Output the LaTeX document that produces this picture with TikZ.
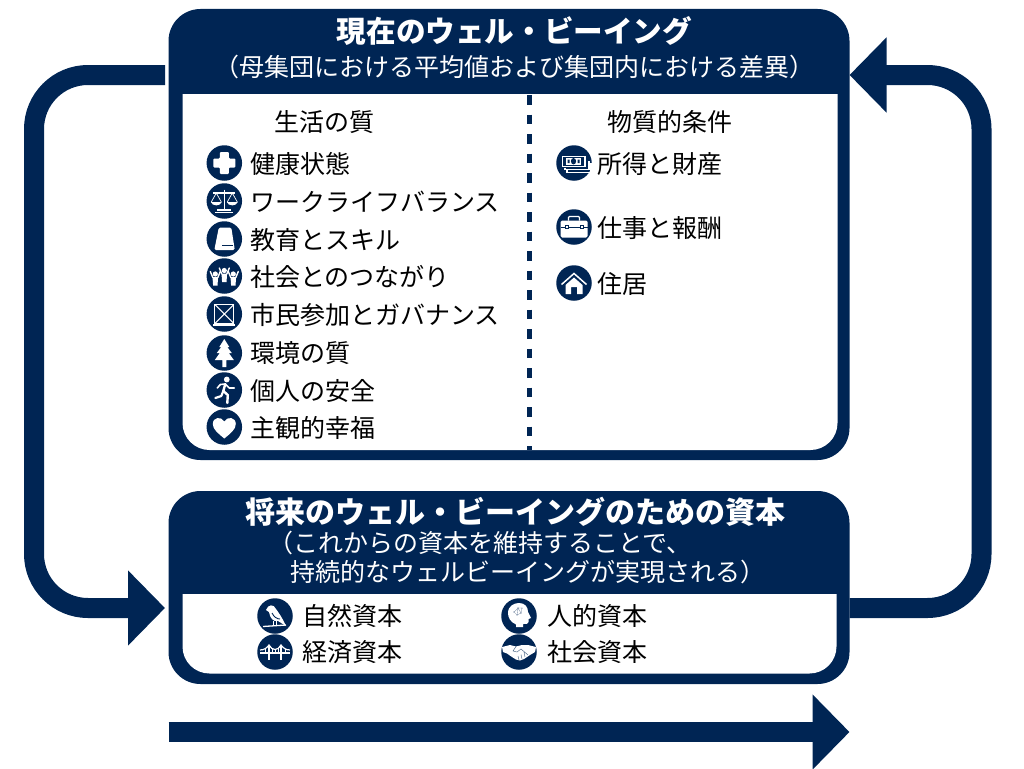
\documentclass[tikz,border=0pt]{standalone}
\usepackage{fontspec}
\usetikzlibrary{arrows.meta}
\setmainfont{Noto Sans CJK JP}
\definecolor{navy}{HTML}{002554}
\tikzset{
  x=1pt,y=-1pt,
  flow/.style={draw=navy,line width=20pt,rounded corners=54pt,-{Triangle[length=37pt,width=73pt]}},
  boxshape/.style={fill=navy,rounded corners=32pt,inner sep=0pt,outer sep=0pt},
  ttl/.style={text=white,inner sep=0pt,font=\fontsize{29.6}{34}\selectfont\bfseries,text height=26pt,text depth=3.6pt},
  subttl/.style={text=white,inner sep=0pt,font=\fontsize{25}{29}\selectfont,text height=22pt,text depth=3pt},
  head/.style={text=black,inner sep=0pt,font=\fontsize{25}{29}\selectfont,text height=22pt,text depth=3pt},
  item/.style={text=black,anchor=west,inner sep=0pt,font=\fontsize{25}{30}\selectfont,text height=22pt,text depth=3pt},
  icon/.style={circle,fill=navy,minimum size=35.5pt,inner sep=0pt,outer sep=0pt},
  wl/.style={draw=white,line width=1.1pt},
  nl/.style={draw=navy,line width=.9pt},
}
\begin{document}
\begin{tikzpicture}
\useasboundingbox (0,0) rectangle (1024,768);
% boxes
\node[boxshape,minimum width=681pt,minimum height=451pt] (topbox) at (509,234.5) {};
\node[boxshape,minimum width=681pt,minimum height=193pt] (botbox) at (509,587.5) {};
\fill[white,rounded corners=27pt] (182.5,60) rectangle (837.5,450);
\fill[navy] (175,60) rectangle (845,94);
\fill[white,rounded corners=27pt] (182.5,550) rectangle (836.5,673.5);
\fill[navy] (175,550) rectangle (845,594);
% connectors
\coordinate (leftstart) at (165,75);
\coordinate (lefttip) at (165,608);
\coordinate (timestart) at (168.5,732);
\coordinate (timetip) at (849.5,732);
\draw[flow] (leftstart) -- (34,75) -- (34,608) -- (lefttip);
\draw[flow] (botbox.east |- 0,608) -- (981.5,608) -- (981.5,75) -- (topbox.east |- 0,75);
\draw[flow,rounded corners=0pt] (timestart) -- (timetip);
% divider
\draw[navy,line width=5pt,dash pattern=on 9.5pt off 10pt] (529,95) -- (529,450);
% headers
\node[ttl] (t1) at (514.5,31) {現在のウェル・ビーイング};
\node[subttl] (t2) at (514,67) {（母集団における平均値および集団内における差異）};
\node[ttl,font=\fontsize{30}{34}\selectfont\bfseries] (t3) at (515.5,512) {将来のウェル・ビーイングのための資本};
\node[subttl,anchor=west] (t4) at (268,543) {（これからの資本を維持することで、};
\node[subttl,anchor=west] (t5) at (290,572) {持続的なウェルビーイングが実現される）};
\node[head] (h1) at (324.5,122) {生活の質};
\node[head] (h2) at (669.5,122) {物質的条件};
% items
\node[item] (a1) at (250,163.5) {健康状態};
\node[item] (a2) at (250,201.5) {ワークライフバランス};
\node[item] (a3) at (250,239.5) {教育とスキル};
\node[item] (a4) at (250,276.5) {社会とのつながり};
\node[item] (a5) at (250,314.5) {市民参加とガバナンス};
\node[item] (a6) at (250,352.5) {環境の質};
\node[item] (a7) at (250,390.5) {個人の安全};
\node[item] (a8) at (250,427.5) {主観的幸福};
\node[item] (b1) at (597,163.5) {所得と財産};
\node[item] (b2) at (597,227.5) {仕事と報酬};
\node[item] (b3) at (597,283.5) {住居};
\node[item] (c1) at (302,616) {自然資本};
\node[item] (c2) at (302,652) {経済資本};
\node[item] (c3) at (547,616) {人的資本};
\node[item] (c4) at (547,652) {社会資本};
% icons
\node[icon] (i1) at (224.3,163) {};
\begin{scope}[shift={(i1)}]
  \fill[white,rounded corners=1pt] (-4.5,-11) -- (4.5,-11) -- (4.5,-4.5) -- (11,-4.5) -- (11,4.5) -- (4.5,4.5) -- (4.5,11) -- (-4.5,11) -- (-4.5,4.5) -- (-11,4.5) -- (-11,-4.5) -- (-4.5,-4.5) -- cycle;
\end{scope}
\node[icon] (i2) at (224.3,201) {};
\begin{scope}[shift={(i2)}]
  \draw[wl] (0,-11.5) -- (0,8);
  \draw[wl] (-11,-8) -- (11,-8);
  \draw[wl,line width=.7pt] (-13,1) -- (-8,-8) -- (-3,1) (3,1) -- (8,-8) -- (13,1);
  \fill[white] (-13.5,1) .. controls (-12,5.5) and (-4,5.5) .. (-2.5,1) -- cycle;
  \fill[white] (2.5,1) .. controls (4,5.5) and (12,5.5) .. (13.5,1) -- cycle;
  \fill[white] (-7,8) rectangle (7,10);
  \draw[white,line width=.8pt] (-9,11.5) -- (9,11.5);
\end{scope}
\node[icon] (i3) at (224.3,239) {};
\begin{scope}[shift={(i3)}]
  \fill[white,rounded corners=1.5pt] (-5.5,-11.5) -- (7,-11.5) -- (10.5,11) -- (-10,11) -- cycle;
  \draw[nl] (-2,6.5) -- (9,6.5);
\end{scope}
\node[icon] (i4) at (224.3,276) {};
\begin{scope}[shift={(i4)}]
  \foreach \dx/\dy in {-9/1.5,9/1.5,0/-2}{
    \fill[white] (\dx,\dy-3.5) circle (2.6);
    \fill[white] (\dx-2.8,\dy-.5) -- (\dx+2.8,\dy-.5) -- (\dx+2.2,\dy+8) -- (\dx-2.2,\dy+8) -- cycle;
    \draw[white,line width=1.4pt,line cap=round] (\dx-2.5,\dy) -- (\dx-5,\dy-6) (\dx+2.5,\dy) -- (\dx+5,\dy-6);
  }
\end{scope}
\node[icon] (i5) at (224.3,314) {};
\begin{scope}[shift={(i5)}]
  \draw[wl,line width=1.3pt] (-9.5,-9.5) rectangle (9.5,9.5);
  \draw[wl] (-9.5,-9.5) -- (9.5,9.5) (9.5,-9.5) -- (-9.5,9.5);
  \draw[wl,line width=1.3pt] (-11,11) -- (11,11);
\end{scope}
\node[icon] (i6) at (224.3,353) {};
\begin{scope}[shift={(i6)}]
  \fill[white] (0,-14) -- (5,-6) -- (3,-6) -- (7.5,0) -- (4.5,0) -- (9.5,7) -- (2,7) -- (2,14) -- (-2,14) -- (-2,7) -- (-9.5,7) -- (-4.5,0) -- (-7.5,0) -- (-3,-6) -- (-5,-6) -- cycle;
\end{scope}
\node[icon] (i7) at (224.3,390) {};
\begin{scope}[shift={(i7)}]
  \fill[white] (2.5,-10.5) circle (2.9);
  \draw[white,line width=2.4pt,line join=round,line cap=round] (1,-6) -- (-1,1) -- (3.5,5) -- (3,13);
  \draw[white,line width=2.2pt,line join=round,line cap=round] (-1,1) -- (-3,6) -- (-9,8);
  \draw[white,line width=1.6pt,line join=round,line cap=round] (1,-6) -- (-4,-5.5) -- (-7,-2);
  \draw[white,line width=1.6pt,line join=round,line cap=round] (1,-6) -- (5,-2) -- (10,-2);
\end{scope}
\node[icon] (i8) at (224.3,427) {};
\begin{scope}[shift={(i8)}]
  \fill[white] (0,11.5) .. controls (-6,6.5) and (-11.5,2.5) .. (-11.5,-3) .. controls (-11.5,-10) and (-3,-11) .. (0,-5.5) .. controls (3,-11) and (11.5,-10) .. (11.5,-3) .. controls (11.5,2.5) and (6,6.5) .. (0,11.5) -- cycle;
\end{scope}
\node[icon] (j1) at (574,163) {};
\begin{scope}[shift={(j1)}]
  \draw[wl] (-9,4.5) -- (-9,6.5) -- (15,6.5) -- (15,-2);
  \draw[wl] (-7,7) -- (-7,9.5) -- (17,9.5) -- (17,0);
  \fill[white] (-12.5,-7.5) rectangle (11.5,4);
  \fill[navy] (-11,-6.2) rectangle (10,2.7);
  \fill[white] (-8,-5.5) rectangle (7,2);
  \fill[navy] (-.5,-1.8) ellipse (2.6 and 3.2);
  \fill[navy] (-6.5,-3.5) rectangle (-4.5,0) (3.5,-3.5) rectangle (5.5,0);
\end{scope}
\node[icon] (j2) at (574,227) {};
\begin{scope}[shift={(j2)}]
  \fill[white,rounded corners=1.5pt] (-13.5,-6.5) rectangle (13.5,10.5);
  \draw[wl,rounded corners=1pt] (-5.5,-6.5) -- (-5.5,-10.5) -- (5.5,-10.5) -- (5.5,-6.5);
  \draw[nl] (-13.5,0) -- (13.5,0);
  \fill[white] (-9,-1.5) rectangle (-6,1.5) (6,-1.5) rectangle (9,1.5);
  \draw[nl,line width=.5pt] (-9,-1.5) rectangle (-6,1.5) (6,-1.5) rectangle (9,1.5);
\end{scope}
\node[icon] (j3) at (574,283) {};
\begin{scope}[shift={(j3)}]
  \fill[white] (-8.5,2) -- (0,-5.5) -- (8.5,2) -- (8.5,11) -- (3,11) -- (3,4) -- (-3,4) -- (-3,11) -- (-8.5,11) -- cycle;
  \draw[white,line width=1.5pt] (-12.5,1.5) -- (0,-9.5) -- (12.5,1.5);
\end{scope}
\node[icon] (k1) at (275,616) {};
\begin{scope}[shift={(k1)}]
  \fill[white] (-9,-6) .. controls (-7,-12) and (-1,-12) .. (1,-7) .. controls (4,-3) and (8,3) .. (11,10) -- (3,5) .. controls (-2,6) and (-5,2) .. (-6,-4) -- cycle;
  \draw[white,line width=1.3pt] (-12,10.5) -- (11,9);
  \draw[white,line width=1pt] (-2,5) -- (-2,9) (1,5) -- (1,9);
  \draw[nl] (-3,-3) .. controls (-1,1) and (2,3) .. (5,3);
\end{scope}
\node[icon] (k2) at (275,652) {};
\begin{scope}[shift={(k2)}]
  \draw[white,line width=2.6pt] (-15,1) -- (15,1);
  \draw[white,line width=2pt] (-6,-7) -- (-6,8) (6,-7) -- (6,8);
  \draw[white,line width=1.2pt] (-15,-2) .. controls (-11,-2) and (-8,-4) .. (-6,-7) .. controls (-3,-1) and (3,-1) .. (6,-7) .. controls (8,-4) and (11,-2) .. (15,-2);
  \draw[white,line width=.7pt] (-3,-3) -- (-3,1) (0,-2.5) -- (0,1) (3,-3) -- (3,1) (-10,-3) -- (-10,1) (10,-3) -- (10,1);
\end{scope}
\node[icon] (k3) at (519,616) {};
\begin{scope}[shift={(k3)}]
  \fill[white] (-3,11) -- (-3,8.5) .. controls (-9,6) and (-11,1) .. (-11,-3) .. controls (-11,-10) and (-5,-13) .. (0,-13) .. controls (6,-13) and (9,-9) .. (9,-4) -- (12,2) -- (9.5,3) -- (9.5,6) .. controls (9.5,8) and (7,8.5) .. (4,8) -- (4,11) -- cycle;
  \fill[navy!70] (-5,-4) circle (.7) (-1,-8) circle (.6) (2,-3) circle (.7) (-2,-1) circle (.5) (3,-8) circle (.5);
  \draw[navy!50,line width=.35pt] (-5,-4) -- (-1,-8) -- (2,-3) -- (-2,-1) -- (-5,-4) (-1,-8) -- (-2,-1) (-1,-8) -- (3,-8) -- (2,-3);
\end{scope}
\node[icon] (k4) at (519,652) {};
\begin{scope}[shift={(k4)}]
  \fill[white] (-17,-5) -- (-9,-7) -- (-3,-5.5) -- (3,-7) -- (9,-7) -- (17,-5) -- (16,0) -- (11,3) -- (5,7) -- (1,8.5) -- (-3,7.5) -- (-7,5) -- (-12,1.5) -- (-16,0) -- cycle;
  \draw[navy!70,line width=.45pt] (-3,-5.5) -- (-6,-1) -- (-2,0) -- (2,-3) -- (9,3) (5,0) -- (6,5) (2,2.5) -- (3,7) (-1,4) -- (0,8);
\end{scope}
\end{tikzpicture}
\end{document}
